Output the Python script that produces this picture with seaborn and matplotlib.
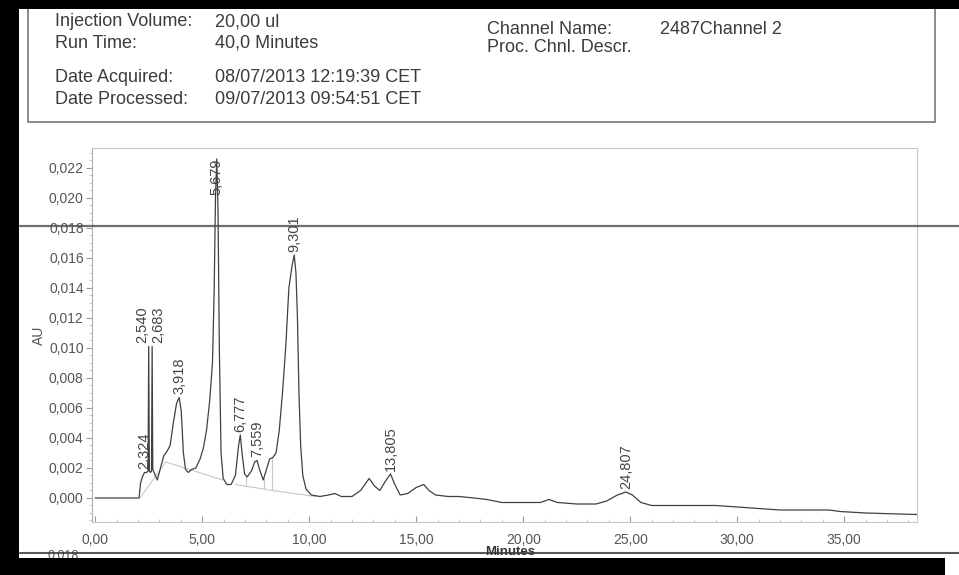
import matplotlib
matplotlib.use("Agg")
import matplotlib.pyplot as plt
from matplotlib.patches import Rectangle
from matplotlib.lines import Line2D
from matplotlib.ticker import MultipleLocator, FuncFormatter
import seaborn as sns
import pandas as pd

# ---------------- data ----------------
times = [0.0, 1.0, 2.05, 2.12, 2.2, 2.3, 2.4, 2.47, 2.50, 2.53, 2.58, 2.63, 2.66, 2.69, 2.78,
         2.9, 3.05, 3.2, 3.35, 3.5, 3.65, 3.8, 3.92, 4.02, 4.12, 4.22, 4.35, 4.5, 4.7, 4.9,
         5.05, 5.2, 5.35, 5.48, 5.56, 5.62, 5.68, 5.74, 5.8, 5.88, 5.98, 6.15, 6.35, 6.55,
         6.7, 6.78, 6.86, 6.98, 7.1, 7.3, 7.45, 7.56, 7.68, 7.85, 7.98, 8.15, 8.3, 8.45,
         8.6, 8.75, 8.9, 9.05, 9.2, 9.3, 9.38, 9.45, 9.52, 9.6, 9.7, 9.85, 10.1, 10.5,
         10.9, 11.2, 11.5, 12.0, 12.4, 12.8, 13.05, 13.3, 13.55, 13.8, 14.0, 14.25, 14.6,
         15.0, 15.35, 15.6, 15.9, 16.5, 17.0, 17.7, 18.3, 19.0, 20.0, 20.8, 21.2, 21.6,
         22.5, 23.4, 23.9, 24.4, 24.8, 25.1, 25.5, 26.0, 27.0, 28.0, 29.0, 30.0, 31.0,
         32.0, 33.5, 34.3, 34.8, 36.0, 38.4]
au = [0.0000, 0.0000, 0.0000, 0.0010, 0.0014, 0.0017, 0.0017, 0.0018, 0.0101, 0.0018,
      0.0017, 0.0018, 0.0101, 0.0019, 0.0016, 0.0012, 0.0020, 0.0028, 0.0031, 0.0035,
      0.0050, 0.0063, 0.0067, 0.0058, 0.0030, 0.0019, 0.0017, 0.0019, 0.0020, 0.0026,
      0.0033, 0.0045, 0.0065, 0.0090, 0.0140, 0.0200, 0.0226, 0.0190, 0.0100, 0.0030,
      0.0013, 0.0009, 0.0009, 0.0015, 0.0035, 0.0042, 0.0030, 0.0016, 0.0014, 0.0018,
      0.0024, 0.0025, 0.0019, 0.0012, 0.0018, 0.0026, 0.0027, 0.0030, 0.0045, 0.0070,
      0.0100, 0.0140, 0.0155, 0.0162, 0.0150, 0.0120, 0.0070, 0.0035, 0.0015, 0.0006,
      0.0002, 0.0001, 0.0002, 0.0003, 0.0001, 0.0001, 0.0005, 0.0013, 0.0008, 0.0005,
      0.0011, 0.0016, 0.0009, 0.0002, 0.0003, 0.0007, 0.0009, 0.0005, 0.0002, 0.0001,
      0.0001, 0.0000, -0.0001, -0.0003, -0.0003, -0.0003, -0.0001, -0.0003, -0.0004,
      -0.0004, -0.0002, 0.0002, 0.0004, 0.0002, -0.0003, -0.0005, -0.0005, -0.0005,
      -0.0005, -0.0006, -0.0007, -0.0008, -0.0008, -0.0008, -0.0009, -0.0010, -0.0011]

peak_times = [2.324, 2.540, 2.683, 3.918, 5.679, 6.777, 7.559, 9.301, 13.805, 24.807]
peak_heights = [0.0017, 0.0101, 0.0101, 0.0067, 0.0226, 0.0042, 0.0025, 0.0162, 0.0016, 0.0004]
peak_labels = ["2,324", "2,540", "2,683", "3,918", "5,679", "6,777", "7,559", "9,301",
               "13,805", "24,807"]

# integration baseline segments (faint)
base_t = [[2.09, 3.30, 5.95], [6.56, 8.28, 10.3]]
base_au = [[0.0000, 0.0024, 0.0012], [0.0009, 0.0005, 0.0001]]
drop_t = [7.03, 7.90, 8.28]
drop_lo = [0.0008, 0.0006, 0.0005]
drop_hi = [0.0014, 0.0013, 0.0027]

y_ticks = [0.000, 0.002, 0.004, 0.006, 0.008, 0.010, 0.012, 0.014, 0.016, 0.018, 0.020, 0.022]
x_ticks = [0, 5, 10, 15, 20, 25, 30, 35]

header_left = [("Injection Volume:", "20,00 ul", 22), ("Run Time:", "40,0 Minutes", 43),
               ("Date Acquired:", "08/07/2013 12:19:39 CET", 78),
               ("Date Processed:", "09/07/2013 09:54:51 CET", 99)]
header_right = [("Channel Name:", "2487Channel 2", 29), ("Proc. Chnl. Descr.", "", 47)]

# ---------------- figure ----------------
sns.set_theme(style="white")
plt.rcParams["font.family"] = ["Liberation Sans", "DejaVu Sans"]

W, H = 959, 575
fig = plt.figure(figsize=(W / 100, H / 100), dpi=100)
fig.patch.set_facecolor("white")

def fx(px):
    return px / W

def fy(py):
    return 1 - py / H

ax = fig.add_axes([fx(92), fy(522), fx(917) - fx(92), fy(148) - fy(522)])
ax.set_facecolor("white")

df = pd.DataFrame({"Minutes": times, "AU": au})
sns.lineplot(data=df, x="Minutes", y="AU", ax=ax, sort=False, estimator=None,
             color="#404040", linewidth=0.9)

for bt, ba in zip(base_t, base_au):
    ax.plot(bt, ba, color="#c8c8c8", lw=0.8, zorder=1)
for t, lo, hi in zip(drop_t, drop_lo, drop_hi):
    ax.plot([t, t], [lo, hi], color="#c8c8c8", lw=0.8, zorder=1)

ax.set_xlim(-0.15, 38.4)
ax.set_ylim(-0.0016, 0.02333)

# small horizontal nudges (in minutes) for the crowded labels near 2.5 min
nudge = {"2,324": -0.05, "2,540": -0.33, "2,683": 0.28}
for t, h, lab in zip(peak_times, peak_heights, peak_labels):
    if h > 0.02:
        ax.text(t, h, lab, rotation=90, ha="center", va="top", fontsize=10.5, color="#444444")
    else:
        ax.text(t + nudge.get(lab, 0.0), h + 0.0002, lab, rotation=90, ha="center",
                va="bottom", fontsize=10.5, color="#444444")

ax.set_yticks(y_ticks)
ax.set_xticks(x_ticks)
ax.yaxis.set_minor_locator(MultipleLocator(0.0005))
ax.xaxis.set_minor_locator(MultipleLocator(1.0))
ax.yaxis.set_major_formatter(FuncFormatter(lambda v, p: f"{v:.3f}".replace(".", ",")))
ax.xaxis.set_major_formatter(FuncFormatter(lambda v, p: f"{v:.2f}".replace(".", ",")))
ax.tick_params(axis="y", which="major", direction="out", length=4, width=0.8,
               color="#9a9a9a", labelsize=10, labelcolor="#555555", pad=2, left=True)
ax.tick_params(axis="y", which="minor", direction="out", length=2, width=0.6,
               color="#bbbbbb", left=True)
ax.tick_params(axis="x", which="major", direction="in", length=4, width=0.8,
               color="#9a9a9a", labelsize=10, labelcolor="#555555", pad=8, bottom=True)
ax.tick_params(axis="x", which="minor", direction="in", length=2, width=0.6,
               color="#bbbbbb", bottom=True)
ax.set_xlabel("")
ax.set_ylabel("AU", fontsize=10, color="#555555", labelpad=2)

for side, sp in ax.spines.items():
    sp.set_color("#c8c8c8")
    sp.set_linewidth(0.8)
ax.spines["left"].set_color("#b0b0b0")

# ---------------- header ----------------
fig.patches.append(Rectangle((fx(28), fy(122)), fx(935) - fx(28), fy(0) - fy(122),
                             transform=fig.transFigure, facecolor="none",
                             edgecolor="#777777", lw=1.2, zorder=1))
for lab, val, py in header_left:
    fig.text(fx(55), fy(py), lab, fontsize=13, color="#3c3c3c", va="center")
    fig.text(fx(215), fy(py), val, fontsize=13, color="#3c3c3c", va="center")
for lab, val, py in header_right:
    fig.text(fx(487), fy(py), lab, fontsize=13, color="#3c3c3c", va="center")
    if val:
        fig.text(fx(660), fy(py), val, fontsize=13, color="#3c3c3c", va="center")

# x-axis title
fig.text(fx(510), fy(552), "Minutes", fontsize=9.5, color="#333333", ha="center",
         va="center", fontweight="bold")

# ---------------- scan artefacts ----------------
fig.add_artist(Line2D([fx(20), 1.0], [fy(226), fy(226)], transform=fig.transFigure,
                      color="#4a4a4a", lw=1.6, alpha=0.8, zorder=5))
fig.add_artist(Line2D([fx(20), 1.0], [fy(553), fy(553)], transform=fig.transFigure,
                      color="#3a3a3a", lw=1.5, alpha=0.85, zorder=5))
fig.text(fx(48), fy(555), "0,018", fontsize=9, color="#555555", va="center")
# black borders
fig.patches.append(Rectangle((0, fy(9)), 1, fy(0) - fy(9), transform=fig.transFigure,
                             facecolor="black", edgecolor="none", zorder=10))
fig.patches.append(Rectangle((0, 0), fx(19), 1, transform=fig.transFigure,
                             facecolor="black", edgecolor="none", zorder=10))
fig.patches.append(Rectangle((0, 0), fx(945), fy(558), transform=fig.transFigure,
                             facecolor="black", edgecolor="none", zorder=10))

fig.savefig("out.png", dpi=100, facecolor="white")
